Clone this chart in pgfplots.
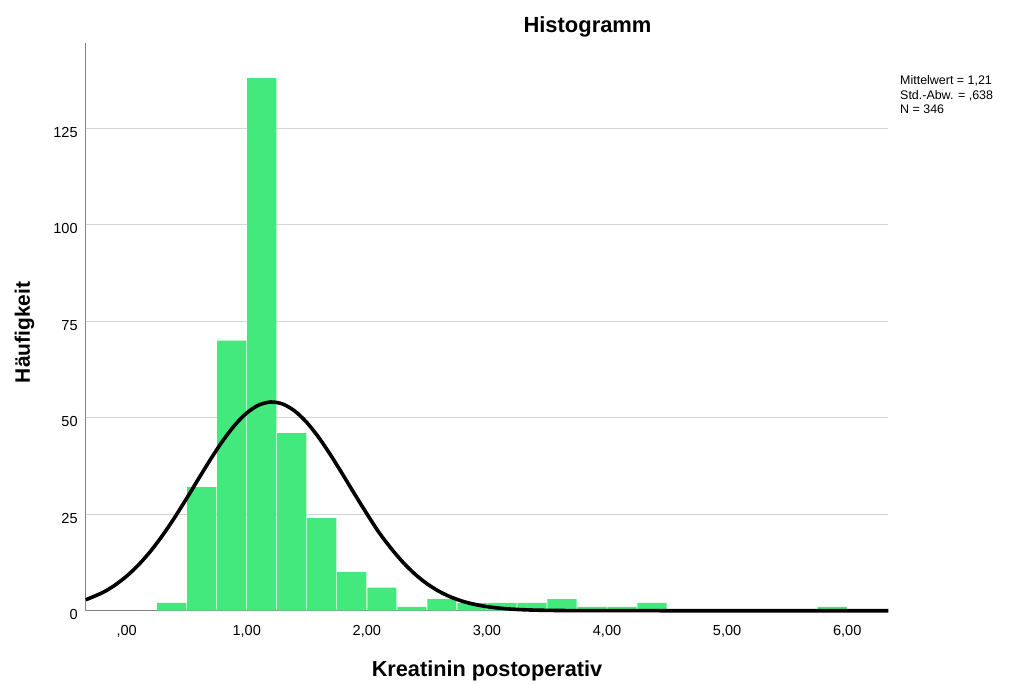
\documentclass[border=0pt]{standalone}
\usepackage{pgfplots}
\pgfplotsset{compat=1.18}
\usepackage{fontspec}
\setmainfont{Liberation Sans}

\definecolor{barfill}{RGB}{67,233,125}
\definecolor{gridgray}{RGB}{212,212,212}
\definecolor{axisgray}{RGB}{130,130,130}

\begin{document}
\begin{tikzpicture}
\begin{axis}[
  scale only axis,
  width=802.5bp, height=568bp,
  xmin=-0.34, xmax=6.342, ymin=0, ymax=147.2,
  axis x line*=bottom, axis y line*=left,
  axis line style={axisgray, line width=1.2bp},
  xtick={0,1,2,3,4,5,6},
  xticklabels={{,00},{1,00},{2,00},{3,00},{4,00},{5,00},{6,00}},
  ytick={0,25,50,75,100,125},
  yticklabels={0,25,50,75,100,125},
  ymajorgrids,
  grid style={gridgray, line width=1.3bp},
  major tick length=0pt,
  tick label style={font=\fontsize{14.6}{16}\selectfont, inner sep=0pt},
  xticklabel style={anchor=north, yshift=-14.3bp},
  yticklabel style={anchor=east, xshift=-8bp, yshift=-4bp},
  clip=false,
]

% histogram bins of width 0.25 (bin centres)
\addplot[ybar, bar width=0.243, bar shift=0pt, fill=barfill, draw=none]
  coordinates {
  (0.375,2) (0.625,32) (0.875,70) (1.125,138) (1.375,46) (1.625,24)
  (1.875,10) (2.125,6) (2.375,1) (2.625,3) (2.875,2) (3.125,2)
  (3.375,2) (3.625,3) (3.875,1) (4.125,1) (4.375,2) (5.875,1)
  };

% normal curve, mean 1.21, sd 0.638, N = 346
\addplot[black, line width=3.6bp, smooth] coordinates {
  (-0.34,2.83) (-0.2,4.70) (-0.1,6.57) (0,8.96) (0.1,11.91) (0.2,15.45)
  (0.3,19.56) (0.4,24.16) (0.5,29.12) (0.6,34.25) (0.7,39.30) (0.8,44.00)
  (0.9,48.07) (1.0,51.24) (1.1,53.29) (1.2,54.08) (1.3,53.55) (1.4,51.74)
  (1.5,48.78) (1.6,44.87) (1.7,40.27) (1.8,35.27) (1.9,30.14) (2.0,25.13)
  (2.1,20.33) (2.2,16.23) (2.3,12.57) (2.4,9.50) (2.5,7.00) (2.6,5.04)
  (2.7,3.54) (2.8,2.42) (2.9,1.62) (3.0,1.06) (3.1,0.67) (3.2,0.42)
  (3.3,0.25) (3.4,0.15) (3.5,0.09) (3.6,0.05) (3.8,0.014) (4.0,0.004)
  (4.5,0) (5.0,0) (5.5,0) (6.0,0) (6.342,0)
};

\coordinate (O) at (rel axis cs:0,0);

\node[anchor=base, inner sep=0pt, font=\bfseries\fontsize{22}{26}\selectfont,
      xshift=501.7bp, yshift=577.7bp] at (rel axis cs:0,0) {Histogramm};
\node[anchor=base, inner sep=0pt, font=\bfseries\fontsize{21.8}{26}\selectfont,
      xshift=401.2bp, yshift=-65.3bp] at (rel axis cs:0,0) {Kreatinin postoperativ};
\node[xshift=-55.8bp, yshift=278.2bp, rotate=90, anchor=base, inner sep=0pt,
      font=\bfseries\fontsize{21}{25}\selectfont] at (rel axis cs:0,0) {Häufigkeit};
\node[anchor=north west, align=left, inner sep=0pt,
      font=\fontsize{12.5}{14.2}\selectfont,
      xshift=814.2bp, yshift=535bp] at (rel axis cs:0,0)
      {Mittelwert = 1,21\\Std.-Abw. = ,638\\N = 346};
\end{axis}
\pgfresetboundingbox
\path[use as bounding box] ([xshift=-85.8bp,yshift=-73.3bp]O) rectangle ([xshift=933.2bp,yshift=610.7bp]O);
\end{tikzpicture}
\end{document}
